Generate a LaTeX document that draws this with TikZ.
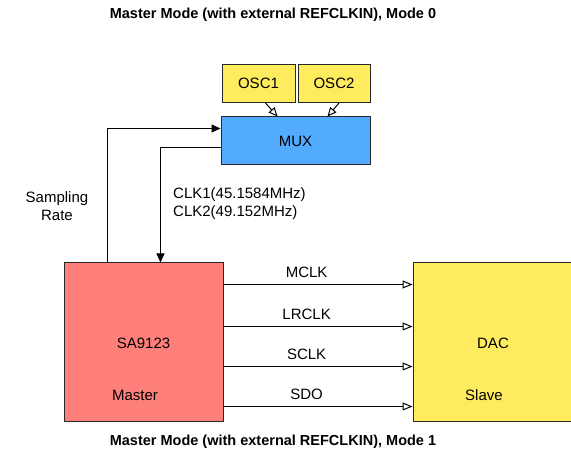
\documentclass[tikz,border=0pt]{standalone}
\usepackage{fontspec}
\setmainfont{Liberation Sans}
\usetikzlibrary{arrows.meta,positioning}
\definecolor{oscyellow}{RGB}{255,235,94}
\definecolor{muxblue}{RGB}{82,171,255}
\definecolor{masterred}{RGB}{255,127,122}
\definecolor{edgegray}{RGB}{40,40,40}

\begin{document}
\begin{tikzpicture}[x=1pt,y=-1pt,
  blk/.style={rectangle,draw=edgegray,line width=1pt,inner sep=0pt,font=\fontsize{15}{17}\selectfont},
  lbl/.style={font=\fontsize{15}{17}\selectfont,inner sep=0pt},
  ttl/.style={font=\fontsize{14.5}{17}\selectfont\bfseries,inner sep=0pt},
  solid arrow/.style={-{Triangle[length=9pt,width=8pt]},line width=1pt},
  open arrow/.style={-{Triangle[open,length=10pt,width=8pt]},line width=1pt}]
\useasboundingbox (0,0) rectangle (571,462);
\node[ttl] (top) at (273,15) {Master Mode (with external REFCLKIN), Mode 0};
\node[ttl] (bottom) at (273,442) {Master Mode (with external REFCLKIN), Mode 1};
\node[blk,fill=oscyellow,minimum width=73pt,minimum height=38pt] (osc1) at (258.5,83.5) {OSC1};
\node[blk,fill=oscyellow,minimum width=72pt,minimum height=38pt] (osc2) at (334,83.5) {OSC2};
\node[blk,fill=muxblue,minimum width=149pt,minimum height=48pt] (mux) at (295.5,141) {MUX};
\node[blk,fill=masterred,minimum width=159pt,minimum height=159pt] (sa) at (143.5,342.5) {};
\node[blk,fill=oscyellow,minimum width=160pt,minimum height=159pt] (dac) at (493,342.5) {};
\node[lbl] (saname) at (143.5,343) {SA9123};
\node[lbl] (master) at (135,395) {Master};
\node[lbl] (dacname) at (493,343) {DAC};
\node[lbl] (slave) at (484,395) {Slave};
\node[lbl,align=center] (rate) at (57,206) {Sampling\\[1pt]Rate};
\node[lbl,align=left,anchor=west] (clk) at (173,204) {CLK1(45.1584MHz)\\[1pt]CLK2(49.152MHz)};
% oscillators into the mux
\draw[open arrow,-{Triangle[open,length=9pt,width=8pt]}] ([xshift=7pt]osc1.south) -- ([xshift=57pt]mux.north west);
\draw[open arrow,-{Triangle[open,length=9pt,width=8pt]}] ([xshift=5pt]osc2.south) -- ([xshift=107pt]mux.north west);
% control and clock paths
\draw[solid arrow] ([xshift=44pt]sa.north west) |- ([yshift=-12pt]mux.north west);
\draw[solid arrow] ([yshift=-31pt]mux.north west) -| ([xshift=97pt]sa.north west);
% serial audio lines
\foreach \sig/\dy in {MCLK/22,LRCLK/64,SCLK/104,SDO/144}
  \draw[open arrow] ([yshift=-\dy pt]sa.north east) -- node[lbl,pos=0.44,above=6pt]{\sig} ([yshift=-\dy pt]dac.north west);
\end{tikzpicture}
\end{document}
